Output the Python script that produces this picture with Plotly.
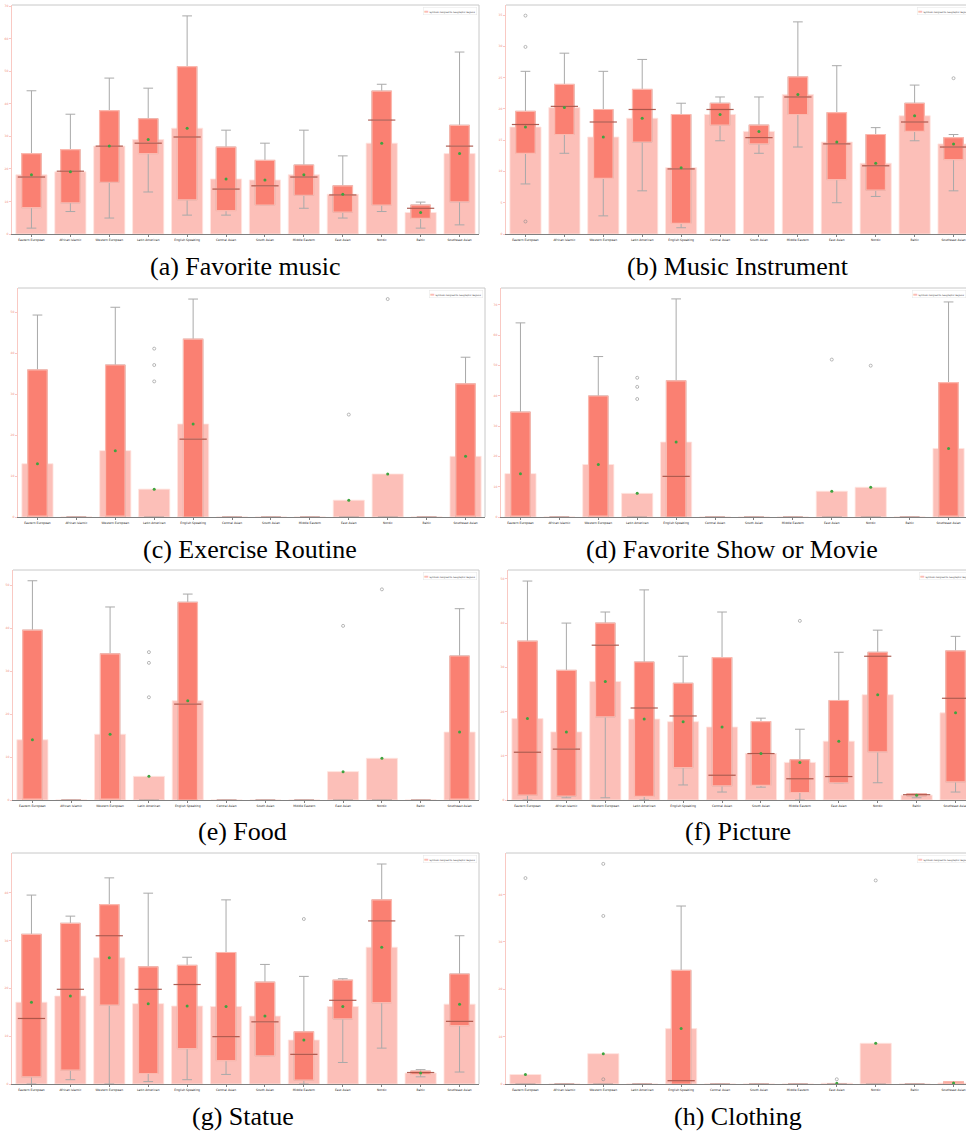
import plotly.graph_objects as go

categories = ["Eastern European", "African Islamic", "Western European", "Latin American",
              "English Speaking", "Central Asian", "South Asian", "Middle Eastern",
              "East Asian", "Nordic", "Baltic", "Southeast Asian"]
legend_name = "Symbols Assigned to Geographic Regions"

# (a) Favorite music
music_mean = [18.2, 19.1, 27.0, 29.0, 32.5, 16.9, 16.6, 18.2, 12.2, 27.9, 6.6, 24.7]
music_q1 = [8.1, 9.6, 15.9, 24.7, 10.5, 7.2, 8.9, 11.9, 6.7, 8.9, 4.8, 9.9]
music_median = [17.5, 19.3, 27.0, 27.9, 29.8, 13.8, 14.8, 17.5, 12.0, 35.0, 7.9, 27.0]
music_q3 = [24.7, 25.9, 37.9, 35.4, 51.4, 26.7, 22.6, 21.2, 14.8, 43.9, 8.9, 33.4]
music_low = [1.8, 6.9, 4.9, 12.9, 5.8, 5.8, 8.9, 7.9, 4.9, 6.9, 1.8, 2.8]
music_high = [44.0, 36.8, 47.9, 44.8, 67.0, 31.9, 27.9, 31.9, 24.0, 46.0, 9.8, 55.9]
music_out_cat = []
music_out_val = []

# (b) Music Instrument
instr_mean = [17.1, 20.2, 15.5, 18.5, 10.6, 19.1, 16.4, 22.3, 14.7, 11.3, 18.9, 14.4]
instr_q1 = [12.9, 15.9, 8.9, 14.7, 1.7, 17.4, 14.4, 19.1, 8.7, 7.0, 16.4, 11.9]
instr_median = [17.5, 20.4, 17.9, 19.9, 10.4, 19.9, 15.4, 21.9, 14.4, 10.9, 17.9, 13.9]
instr_q3 = [19.6, 23.9, 19.9, 23.1, 19.1, 20.9, 17.4, 25.1, 19.4, 15.9, 20.9, 15.4]
instr_low = [8.0, 12.9, 2.9, 6.9, 1.0, 14.9, 12.9, 13.9, 5.0, 6.0, 14.9, 6.9]
instr_high = [26.0, 28.9, 26.0, 27.9, 20.9, 21.9, 21.9, 33.9, 26.9, 17.0, 23.8, 15.9]
instr_out_cat = ["Eastern European", "Eastern European", "Eastern European", "Southeast Asian"]
instr_out_val = [34.9, 29.9, 2.0, 24.9]

# (c) Exercise Routine
exer_mean = [13.0, 0, 16.2, 6.8, 22.7, 0, 0, 0, 4.1, 10.5, 0, 14.8]
exer_q1 = [0, 0, 0, 0, 0, 0, 0, 0, 0, 0, 0, 0]
exer_median = [0, 0, 0, 0, 19.0, 0, 0, 0, 0, 0, 0, 0]
exer_q3 = [35.9, 0, 37.1, 0, 43.4, 0, 0, 0, 0, 0, 0, 32.5]
exer_low = [0, 0, 0, 0, 0, 0, 0, 0, 0, 0, 0, 0]
exer_high = [49.3, 0, 51.2, 0, 53.2, 0, 0, 0, 0, 0, 0, 39.0]
exer_out_cat = ["Latin American", "Latin American", "Latin American", "East Asian", "Nordic"]
exer_out_val = [41.1, 37.1, 33.1, 25.0, 53.2]

# (d) Favorite Show or Movie
show_mean = [14.3, 0, 17.3, 7.8, 24.7, 0, 0, 0, 8.5, 9.8, 0, 22.6]
show_q1 = [0, 0, 0, 0, 0, 0, 0, 0, 0, 0, 0, 0]
show_median = [0, 0, 0, 0, 13.4, 0, 0, 0, 0, 0, 0, 0]
show_q3 = [34.6, 0, 39.9, 0, 44.9, 0, 0, 0, 0, 0, 0, 44.3]
show_low = [0, 0, 0, 0, 0, 0, 0, 0, 0, 0, 0, 0]
show_high = [64.0, 0, 52.9, 0, 71.9, 0, 0, 0, 0, 0, 0, 70.9]
show_out_cat = ["Latin American", "Latin American", "Latin American", "East Asian", "Nordic"]
show_out_val = [45.9, 42.9, 38.9, 51.9, 49.9]

# (e) Food
food_mean = [14.0, 0, 15.3, 5.5, 23.1, 0, 0, 0, 6.6, 9.7, 0, 15.8]
food_q1 = [0, 0, 0, 0, 0, 0, 0, 0, 0, 0, 0, 0]
food_median = [0, 0, 0, 0, 22.3, 0, 0, 0, 0, 0, 0, 0]
food_q3 = [39.5, 0, 34.0, 0, 46.0, 0, 0, 0, 0, 0, 0, 33.5]
food_low = [0, 0, 0, 0, 0, 0, 0, 0, 0, 0, 0, 0]
food_high = [51.0, 0, 44.9, 0, 47.9, 0, 0, 0, 0, 0, 0, 44.5]
food_out_cat = ["Latin American", "Latin American", "Latin American", "East Asian", "Nordic"]
food_out_val = [34.4, 31.9, 23.9, 40.5, 49.0]

# (f) Picture
pic_mean = [18.4, 15.4, 26.8, 18.3, 17.7, 16.5, 10.5, 8.5, 13.3, 23.8, 1.1, 19.7]
pic_q1 = [1.1, 0.9, 18.8, 0.8, 7.3, 3.2, 3.3, 1.7, 3.9, 10.9, 0.9, 4.1]
pic_median = [10.8, 11.5, 35.0, 20.8, 19.0, 5.6, 10.5, 4.8, 5.3, 32.5, 1.2, 23.0]
pic_q3 = [35.9, 29.3, 40.0, 31.2, 26.4, 32.2, 17.7, 9.1, 22.5, 33.4, 1.4, 33.7]
pic_low = [0.0, 0.5, 0.5, 0.0, 3.4, 1.8, 2.9, 0.0, 3.9, 3.9, 0.5, 1.8]
pic_high = [49.5, 40.0, 42.5, 47.5, 32.5, 42.5, 18.5, 16.0, 33.4, 38.4, 1.4, 37.0]
pic_out_cat = ["Middle Eastern"]
pic_out_val = [40.5]

# (g) Statue
stat_mean = [17.1, 18.4, 26.4, 16.8, 16.3, 16.2, 14.2, 9.2, 16.2, 28.6, 2.3, 16.7]
stat_q1 = [1.5, 2.9, 16.5, 2.2, 7.4, 4.9, 5.9, 0.8, 13.6, 17.0, 2.0, 12.2]
stat_median = [13.7, 19.8, 31.0, 19.8, 20.8, 9.9, 13.0, 6.2, 17.5, 34.1, 2.4, 13.1]
stat_q3 = [31.3, 33.6, 37.5, 24.5, 24.8, 27.5, 21.3, 10.9, 21.7, 38.5, 2.7, 23.0]
stat_low = [0.0, 0.9, 0.0, 0.5, 0.9, 2.0, 5.9, 0.0, 4.5, 7.5, 1.5, 2.5]
stat_high = [39.5, 35.1, 43.1, 39.9, 26.5, 38.5, 25.0, 22.5, 22.0, 46.0, 3.0, 31.0]
stat_out_cat = ["Middle Eastern"]
stat_out_val = [34.5]

# (h) Clothing
cloth_mean = [2.0, 0, 6.4, 0, 11.7, 0, 0, 0, 0.15, 8.6, 0, 0.2]
cloth_q1 = [0, 0, 0, 0, 0, 0, 0, 0, 0, 0, 0, 0]
cloth_median = [0, 0, 0, 0, 0.7, 0, 0, 0, 0, 0, 0, 0]
cloth_q3 = [0, 0, 0, 0, 24.0, 0, 0, 0, 0, 0, 0, 0.5]
cloth_low = [0, 0, 0, 0, 0, 0, 0, 0, 0, 0, 0, 0]
cloth_high = [0, 0, 0, 0, 37.6, 0, 0, 0, 0, 0, 0, 0.5]
cloth_out_cat = ["Eastern European", "Western European", "Western European", "Western European",
                 "East Asian", "Nordic"]
cloth_out_val = [43.5, 46.5, 35.5, 1.0, 1.0, 43.0]

panels = [
    ("(a) Favorite music", music_mean, music_q1, music_median, music_q3, music_low, music_high, music_out_cat, music_out_val),
    ("(b) Music Instrument", instr_mean, instr_q1, instr_median, instr_q3, instr_low, instr_high, instr_out_cat, instr_out_val),
    ("(c) Exercise Routine", exer_mean, exer_q1, exer_median, exer_q3, exer_low, exer_high, exer_out_cat, exer_out_val),
    ("(d) Favorite Show or Movie", show_mean, show_q1, show_median, show_q3, show_low, show_high, show_out_cat, show_out_val),
    ("(e) Food", food_mean, food_q1, food_median, food_q3, food_low, food_high, food_out_cat, food_out_val),
    ("(f) Picture", pic_mean, pic_q1, pic_median, pic_q3, pic_low, pic_high, pic_out_cat, pic_out_val),
    ("(g) Statue", stat_mean, stat_q1, stat_median, stat_q3, stat_low, stat_high, stat_out_cat, stat_out_val),
    ("(h) Clothing", cloth_mean, cloth_q1, cloth_median, cloth_q3, cloth_low, cloth_high, cloth_out_cat, cloth_out_val),
]

# layout (pixels): left, top, right (full axes), bottom, y-top, dtick, caption center x, caption y
W, H = 966, 1132
geom = [
    (12, 5, 479, 234, 70.35, 10, 245, 266),
    (506, 5, 973, 234, 36.6, 5, 738, 266),
    (18, 288, 485, 517, 55.9, 10, 250, 549),
    (501, 288, 968, 517, 75.5, 10, 732, 549),
    (13, 570, 479, 800, 53.5, 10, 243, 831),
    (508, 570, 975, 800, 52.0, 10, 738, 831),
    (12, 853, 479, 1084, 48.3, 10, 243, 1116),
    (506, 853, 973, 1084, 48.8, 10, 738, 1116),
]

SALMON = "#fa8072"
fig = go.Figure()
layout = dict(width=W, height=H, margin=dict(l=0, r=0, t=0, b=0, autoexpand=False),
              paper_bgcolor="white", plot_bgcolor="white", boxmode="overlay",
              showlegend=False, annotations=[], shapes=[])

for i, (title, mean, q1, med, q3, low, high, ocat, oval) in enumerate(panels):
    n = i + 1
    sfx = "" if n == 1 else str(n)
    xa, ya = "x" + sfx, "y" + sfx
    left, top, rfull, bottom, ytop, dt, capx, capy = geom[i]
    right = min(rfull, W)
    spacing = (rfull - left) / 12.0
    xend = 11.5 - (rfull - right) / spacing
    box_px = 0.5 * spacing

    common = dict(xaxis=xa, yaxis=ya, hoverinfo="skip", showlegend=False)
    fig.add_trace(go.Bar(x=categories, y=mean, width=0.8, name=legend_name,
                         marker=dict(color="rgba(250,128,114,0.5)",
                                     line=dict(color="rgba(255,228,224,1)", width=0.8)),
                         **common))
    fig.add_trace(go.Box(x=categories, q1=q1, median=med, q3=q3, lowerfence=low, upperfence=high,
                         orientation="v", width=0.5, whiskerwidth=0.5, boxpoints=False,
                         fillcolor="rgba(0,0,0,0)", line=dict(color="#a9a9a9", width=1), **common))
    fig.add_trace(go.Box(x=categories, q1=q1, median=med, q3=q3, lowerfence=q1, upperfence=q3,
                         orientation="v", width=0.5, whiskerwidth=0.5, boxpoints=False,
                         fillcolor=SALMON, line=dict(color="#fcb8ae", width=1.2), **common))
    mdc = [c for c, m in zip(categories, med) if m > 0]
    mdv = [m for m in med if m > 0]
    fig.add_trace(go.Scatter(x=mdc, y=mdv, mode="markers",
                             marker=dict(symbol="line-ew", size=box_px,
                                         line=dict(color="rgba(160,68,56,0.85)", width=1.2)),
                             **common))
    mc = [c for c, m in zip(categories, mean) if m > 0]
    mv = [m for m in mean if m > 0]
    fig.add_trace(go.Scatter(x=mc, y=mv, mode="markers",
                             marker=dict(symbol="circle", size=3, color="#3fa33f"), **common))
    fig.add_trace(go.Scatter(x=ocat, y=oval, mode="markers",
                             marker=dict(symbol="circle-open", size=3, color="#8c8c8c",
                                         line=dict(width=0.6)), **common))

    layout["xaxis" + sfx] = dict(domain=[left / W, right / W], range=[-0.5, xend], type="category",
                                 categoryorder="array", categoryarray=categories, anchor=ya,
                                 showline=True, linecolor="#808080", linewidth=1,
                                 ticks="outside", ticklen=2, tickwidth=0.5, tickcolor="#808080",
                                 tickfont=dict(size=3, color="#222222", family="DejaVu Sans"),
                                 showgrid=False, zeroline=False, fixedrange=True)
    layout["yaxis" + sfx] = dict(domain=[1 - bottom / H, 1 - top / H], range=[0, ytop], dtick=dt,
                                 anchor=xa, showline=True, linecolor="#f9c9c3", linewidth=1,
                                 ticks="outside", ticklen=2, tickwidth=0.5, tickcolor="#f9c9c3",
                                 tickfont=dict(size=3, color="#f08a7e", family="DejaVu Sans"),
                                 showgrid=False, zeroline=False, fixedrange=True)
    xr = (rfull - left) / (right - left)
    layout["shapes"].append(dict(type="line", xref=xa + " domain", yref=ya + " domain",
                                 x0=0, x1=xr, y0=1, y1=1, line=dict(color="#c8c8c8", width=1),
                                 layer="below"))
    layout["shapes"].append(dict(type="line", xref=xa + " domain", yref=ya + " domain",
                                 x0=xr, x1=xr, y0=0, y1=1, line=dict(color="#c8c8c8", width=1),
                                 layer="below"))
    # legend box (top right, as in the reference)
    layout["annotations"].append(dict(
        text='<span style="color:#fbbdb6;font-size:5px">▬</span> ' + legend_name,
        x=(rfull - 2) / W, y=1 - (top + 2) / H, xref="paper", yref="paper",
        xanchor="right", yanchor="top", showarrow=False, align="left",
        bgcolor="rgba(255,255,255,0.8)", bordercolor="#e6e6e6", borderwidth=0.5, borderpad=0.5,
        font=dict(size=2.2, color="#333333", family="DejaVu Sans")))
    layout["annotations"].append(dict(text=title, x=capx / W, y=1 - capy / H, xref="paper",
                                      yref="paper", xanchor="center", yanchor="middle",
                                      showarrow=False,
                                      font=dict(family="Liberation Serif", size=26, color="black")))

fig.update_layout(**layout)
fig.write_html("out.html", config={"displayModeBar": False},
               post_script="document.body.style.margin='0';document.body.style.padding='0';"
                           "document.body.style.overflow='hidden';")
